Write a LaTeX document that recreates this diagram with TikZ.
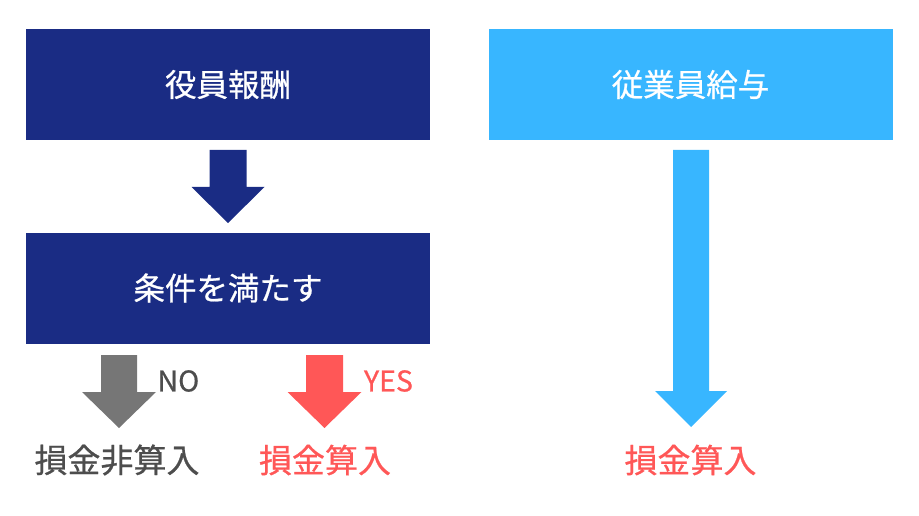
\documentclass[tikz,border=0pt]{standalone}
\usepackage{fontspec}
\setmainfont{Noto Sans CJK JP}[FakeBold=0.7]
\usepackage{tikz}
\usetikzlibrary{positioning}
\usetikzlibrary{calc}

\definecolor{navy}{HTML}{1A2C84}
\definecolor{sky}{HTML}{38B6FF}
\definecolor{salmon}{HTML}{FF5757}
\definecolor{darkgray}{HTML}{4D4D4D}
\definecolor{midgray}{HTML}{767676}

% block arrow: colour, x, top, neck, tip, shaft half width, head half width
\newcommand{\blockarrow}[7]{%
  \fill [#1] ({#2-#6}, #3) -- ({#2+#6}, #3) -- ({#2+#6}, #4) -- ({#2+#7}, #4)
  -- (#2, #5) -- ({#2-#7}, #4) -- ({#2-#6}, #4) -- cycle;}

\begin{document}
\begin{tikzpicture}[x=1pt, y=-1pt,
    box/.style={minimum width=404pt, minimum height=111pt, inner sep=0pt,
      text=white, font=\fontsize{31.5}{36}\selectfont},
    result/.style={font=\fontsize{33}{40}\selectfont},
    answer/.style={anchor=west, font=\fontsize{28.5}{32}\selectfont}]

    \useasboundingbox (0, 0) rectangle (919, 516);

    \node [box, fill=navy] (yakuin) at (228, 84.5) {役員報酬};
    \node [box, fill=sky] (jugyoin) at (690.5, 84.5) {従業員給与};
    \node [box, fill=navy] (joken) at (228, 288) {条件を満たす};

    \blockarrow{navy}{228}{150}{187}{223}{18.5}{36.5}
    \blockarrow{midgray}{119}{355}{392}{428}{18}{37}
    \blockarrow{salmon}{324.5}{355}{392}{428}{18.5}{37}
    \blockarrow{sky}{691}{150}{391}{427}{18}{36}

    \node [answer, text=darkgray] (no) at (154, 381) {NO};
    \node [answer, text=salmon] (yes) at (360.5, 381) {YES};

    \node [result, text=darkgray] (hisannyu) at (117, 460) {損金非算入};
    \node [result, text=salmon] (sannyu) at (325, 460) {損金算入};
    \node [result, text=salmon] (sannyu2) at (690.5, 460) {損金算入};

  \end{tikzpicture}
\end{document}
